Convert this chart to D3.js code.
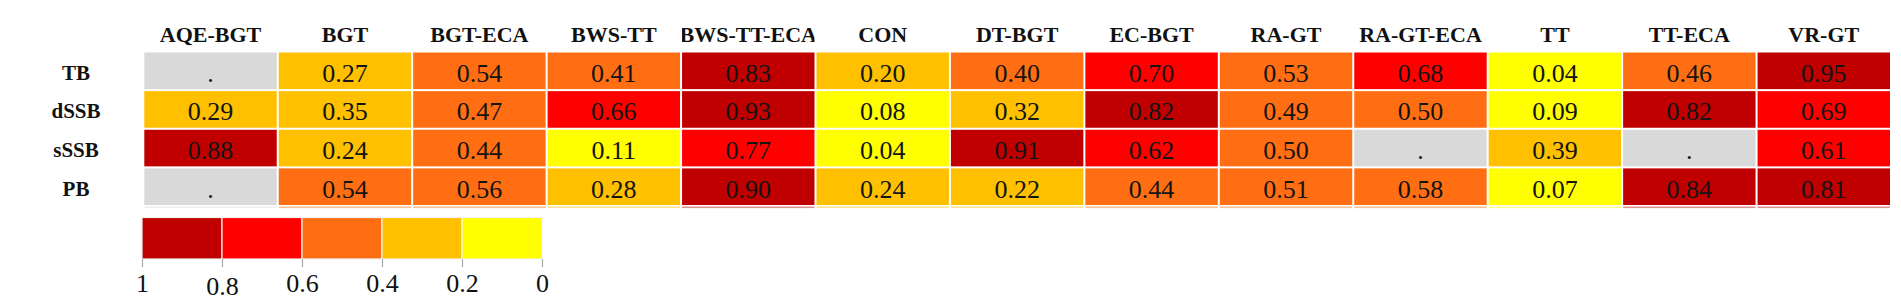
<!DOCTYPE html>
<html>
<head>
<meta charset="utf-8">
<script src="https://cdn.jsdelivr.net/npm/d3@7"></script>
<style>
  html, body { margin: 0; padding: 0; background: #fff; }
  svg text { font-family: "Liberation Serif", "Times New Roman", serif; }
</style>
</head>
<body>
<svg id="chart"></svg>
<script>
const width = 1901;
const height = 304;

// data (null = no value, shown as ".")
const methods = ["AQE-BGT", "BGT", "BGT-ECA", "BWS-TT", "BWS-TT-ECA", "CON", "DT-BGT",
  "EC-BGT", "RA-GT", "RA-GT-ECA", "TT", "TT-ECA", "VR-GT"];
const measures = ["TB", "dSSB", "sSSB", "PB"];
const valuesTB   = [null, 0.27, 0.54, 0.41, 0.83, 0.20, 0.40, 0.70, 0.53, 0.68, 0.04, 0.46, 0.95];
const valuesDSSB = [0.29, 0.35, 0.47, 0.66, 0.93, 0.08, 0.32, 0.82, 0.49, 0.50, 0.09, 0.82, 0.69];
const valuesSSSB = [0.88, 0.24, 0.44, 0.11, 0.77, 0.04, 0.91, 0.62, 0.50, null, 0.39, null, 0.61];
const valuesPB   = [null, 0.54, 0.56, 0.28, 0.90, 0.24, 0.22, 0.44, 0.51, 0.58, 0.07, 0.84, 0.81];
const legendTicks = [1, 0.8, 0.6, 0.4, 0.2, 0];

const thresholds = [0.2, 0.4, 0.6, 0.8];
const binColors = ["#ffff00", "#ffc000", "#ff6e12", "#ff0000", "#c00000"];
const missingColor = "#d9d9d9";

const rows = [valuesTB, valuesDSSB, valuesSSSB, valuesPB];
const cells = [];
rows.forEach((vals, r) => {
  vals.forEach((v, c) => cells.push({ row: measures[r], col: methods[c], value: v }));
});

const svg = d3.select("#chart").attr("width", width).attr("height", height);

const x = d3.scaleBand().domain(methods).range([144.3, 1890]).paddingInner(0.0149);
const y = d3.scaleBand().domain(measures).range([52.5, 205]).paddingInner(0.052);
const color = d3.scaleThreshold().domain(thresholds).range(binColors);

// clip each header to its column
const defs = svg.append("defs");
methods.forEach((m, i) => {
  defs.append("clipPath").attr("id", "clip" + i)
    .append("rect")
    .attr("x", x(m)).attr("y", 0)
    .attr("width", x.bandwidth()).attr("height", 50);
});

svg.append("g").selectAll("text")
  .data(methods)
  .join("text")
  .attr("clip-path", (d, i) => `url(#clip${i})`)
  .attr("x", d => x(d) + x.bandwidth() / 2)
  .attr("y", 42)
  .attr("text-anchor", "middle")
  .attr("font-size", 22)
  .attr("font-weight", "bold")
  .attr("fill", "#111")
  .text(d => d);

// row labels
svg.append("g").selectAll("text")
  .data(measures)
  .join("text")
  .attr("x", 76)
  .attr("y", d => y(d) + y.bandwidth() / 2 + 9)
  .attr("text-anchor", "middle")
  .attr("font-size", 21)
  .attr("font-weight", "bold")
  .attr("fill", "#111")
  .text(d => d);

// faint line under the grid
svg.append("g").selectAll("rect")
  .data(cells.filter(d => d.row === "PB"))
  .join("rect")
  .attr("x", d => x(d.col))
  .attr("y", 206.5)
  .attr("width", x.bandwidth())
  .attr("height", 1.6)
  .attr("fill", d => d.value == null ? missingColor : color(d.value))
  .attr("opacity", 0.45);

const cell = svg.append("g").selectAll("g")
  .data(cells)
  .join("g")
  .attr("transform", d => `translate(${x(d.col)},${y(d.row)})`);

cell.append("rect")
  .attr("width", x.bandwidth())
  .attr("height", y.bandwidth())
  .attr("fill", d => d.value == null ? missingColor : color(d.value));

cell.append("text")
  .attr("x", x.bandwidth() / 2)
  .attr("y", y.bandwidth() / 2 + 11)
  .attr("text-anchor", "middle")
  .attr("font-size", 26)
  .attr("fill", "#141414")
  .text(d => d.value == null ? "." : d.value.toFixed(2));

// legend
const lx = d3.scaleLinear().domain([1, 0]).range([142, 542]);
const bins = [1, ...thresholds.slice().reverse(), 0];
const legend = svg.append("g");
legend.selectAll("rect")
  .data(d3.pairs(bins))
  .join("rect")
  .attr("x", d => lx(d[0]))
  .attr("y", 217.5)
  .attr("width", d => lx(d[1]) - lx(d[0]))
  .attr("height", 41.5)
  .attr("fill", d => color((d[0] + d[1]) / 2))
  .attr("stroke", "#f2f2f2")
  .attr("stroke-width", 1.2);

const axis = d3.axisBottom(lx).tickValues(legendTicks).tickSize(8).tickFormat(d3.format("~g"));
const ag = legend.append("g")
  .attr("transform", "translate(0,259)")
  .call(axis);
ag.select(".domain").remove();
ag.selectAll(".tick line").attr("stroke", "#aaa").attr("stroke-width", 1.2);
ag.selectAll(".tick text")
  .attr("y", 33)
  .attr("dy", d => d === 0.8 ? 3 : 0)
  .attr("font-size", 26)
  .attr("fill", "#111");
</script>
</body>
</html>
